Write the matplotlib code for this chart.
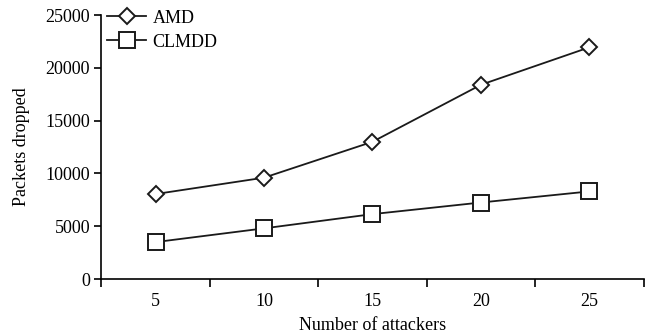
import numpy as np
import matplotlib
matplotlib.use("Agg")
import matplotlib.pyplot as plt
from matplotlib.ticker import FixedLocator

# Data
attackers = ["5", "10", "15", "20", "25"]
amd = [8050, 9600, 13000, 18400, 21950]
clmdd = [3500, 4800, 6150, 7250, 8300]
y_ticks = [0, 5000, 10000, 15000, 20000, 25000]

plt.rcParams['font.family'] = ['Liberation Serif', 'DejaVu Serif']
plt.rcParams['font.size'] = 13

fig = plt.figure(figsize=(6.45, 3.35), dpi=100)
ax = fig.add_axes([0.157, 0.167, 0.841, 0.788])

x = np.arange(len(attackers))
line_kw = dict(color='#1a1a1a', linewidth=1.3, markerfacecolor='white',
               markeredgecolor='#1a1a1a', markeredgewidth=1.4)
ax.plot(x, amd, marker='D', markersize=8.5, label='AMD', **line_kw)
ax.plot(x, clmdd, marker='s', markersize=11, label='CLMDD', **line_kw)

ax.set_xlim(-0.5, len(attackers) - 0.5)
ax.set_ylim(0, 25000)
ax.set_yticks(y_ticks)
ax.set_xticks(x)
ax.set_xticklabels(attackers)
ax.tick_params(axis='x', which='major', length=0, pad=10)
ax.xaxis.set_minor_locator(FixedLocator(np.arange(-0.5, len(attackers), 1.0)))
ax.tick_params(axis='x', which='minor', direction='out', length=6, width=1.2)
ax.tick_params(axis='y', direction='out', length=5, width=1.2, pad=3)

for side in ['top', 'right']:
    ax.spines[side].set_visible(False)
for side in ['left', 'bottom']:
    ax.spines[side].set_linewidth(1.2)

ax.set_xlabel('Number of attackers', labelpad=5)
ax.set_ylabel('Packets dropped', labelpad=11)

ax.legend(loc='upper left', bbox_to_anchor=(0.01, 1.02), frameon=False,
          handlelength=2.2, handletextpad=0.35, labelspacing=0.38,
          borderaxespad=0.0, borderpad=0.0)

fig.savefig('out.png', dpi=100)
